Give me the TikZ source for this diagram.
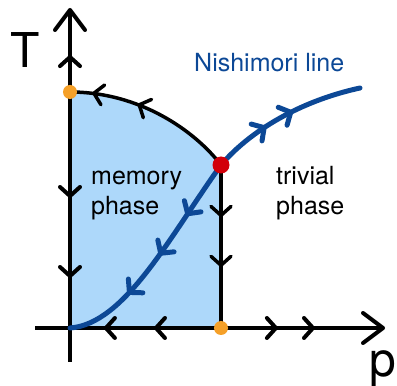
\documentclass[tikz,border=0pt]{standalone}
\usepackage{fontspec}
\setmainfont{TeX Gyre Heros}
\usetikzlibrary{arrows.meta, decorations.markings, positioning}
\definecolor{phaseblue}{RGB}{173, 216, 250}
\definecolor{nishblue}{RGB}{12, 72, 150}
\definecolor{fixorange}{RGB}{245, 160, 40}
\definecolor{fixred}{RGB}{210, 0, 10}

\begin{document}
\begin{tikzpicture}[x=1pt, y=1pt,
  >={Straight Barb[length=9pt, width=20pt, round]},
  fwd/.style={postaction={decorate, decoration={markings, mark=at position #1 with {\arrow{>}}}}},
  bwd/.style={postaction={decorate, decoration={markings, mark=at position #1 with {\arrow{<}}}}},
  axisline/.style={line width=4pt, -{Straight Barb[length=20pt, width=30pt, round]}},
  flow/.style={line width=3.5pt, line cap=round, line join=round},
  nish/.style={draw=nishblue, line width=5pt, line cap=round},
  fixpt/.style={circle, fill=#1, inner sep=0pt, minimum size=14pt},
  axislabel/.style={font=\fontsize{48}{48}\selectfont, inner sep=0pt},
  phasetext/.style={font=\fontsize{25}{30}\selectfont, align=left, inner sep=0pt}
]
  \useasboundingbox (0,0) rectangle (397,386);

  % positions
  \coordinate (O) at (70,58);
  \coordinate (ybot) at (70,24);
  \coordinate (ytop) at (70,378);
  \coordinate (xleft) at (35,58);
  \coordinate (xright) at (385,58);
  \coordinate (tcp) at (70,294);
  \coordinate (mcp) at (221,221);
  \coordinate (pcp) at (221,58);
  \coordinate (nend) at (360,298);

  % memory phase region
  \fill[phaseblue] (O) -- (tcp) .. controls (140,294) and (195,255) .. (mcp) -- (pcp) -- cycle;

  % axes with flow
  \draw[axisline, bwd=0.234, bwd=0.377, fwd=0.694, fwd=0.8] (xleft) -- (xright);
  \draw[axisline, bwd=0.274, bwd=0.5, fwd=0.867] (ybot) -- (ytop);

  % phase boundary
  \draw[flow, bwd=0.2, bwd=0.47] (tcp) .. controls (140,294) and (195,255) .. (mcp);
  \draw[flow, fwd=0.32, fwd=0.626] (mcp) -- (pcp);

  % Nishimori line
  \draw[nish, fwd=0.27, fwd=0.48, fwd=0.7] (mcp) .. controls (170,150) and (125,62) .. (O);
  \draw[nish, fwd=0.37, fwd=0.56] (mcp) .. controls (250,255) and (300,285) .. (nend);

  % fixed points
  \node[fixpt=fixorange] (tc) at (tcp) {};
  \node[fixpt=fixorange] (pc) at (pcp) {};
  \node[fixpt=fixred, minimum size=17pt] (mc) at (mcp) {};

  % labels
  \node[axislabel, anchor=base] (tlab) at (25.5,318) {T};
  \node[axislabel, anchor=base] (plab) at (383,9) {p};
  \node[phasetext, anchor=base west, text=nishblue] (nlab) at (194,314) {Nishimori line};
  \node[phasetext, anchor=base west] (memlab) at (91,171) {memory\\phase};
  \node[phasetext, anchor=base west] (trivlab) at (276,171) {trivial\\phase};
\end{tikzpicture}
\end{document}
